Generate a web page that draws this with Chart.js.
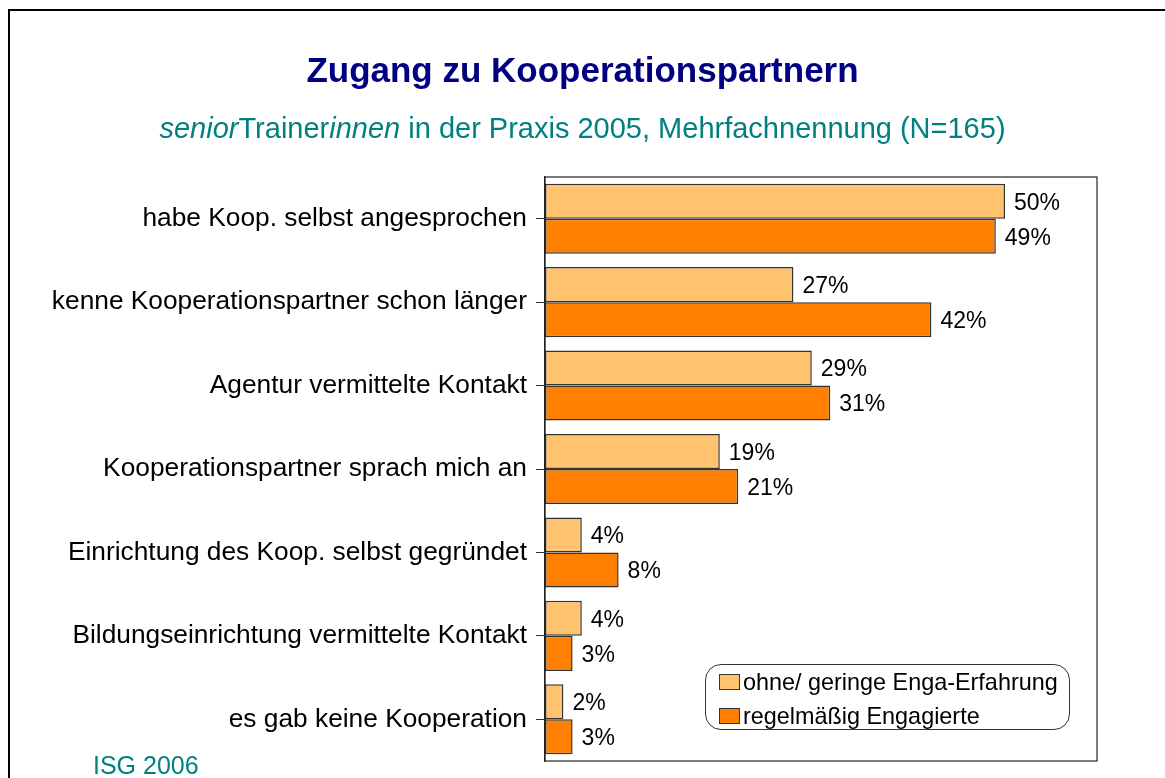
<!DOCTYPE html>
<html>
<head>
<meta charset="utf-8">
<title>Zugang zu Kooperationspartnern</title>
<script src="https://cdn.jsdelivr.net/npm/chart.js@4/dist/chart.umd.min.js"></script>
<style>
  html, body { margin: 0; padding: 0; background: #fff; }
  body { width: 1165px; height: 778px; position: relative; overflow: hidden;
         font-family: "Liberation Sans", Arial, sans-serif; }
  #frame { position: absolute; left: 8px; top: 9px; width: 1300px; height: 900px;
           border-left: 2px solid #000; border-top: 2px solid #000; }
  #chart-wrap { position: absolute; left: 0; top: 0; width: 1165px; height: 778px; }
  #chart-wrap canvas { display: block; }
  #title { position: absolute; left: 0; width: 1165px; top: 50px; text-align: center;
           font-weight: bold; font-size: 35px; color: #000080; white-space: nowrap; }
  #subtitle { position: absolute; left: 0; width: 1165px; top: 112px; text-align: center;
              font-size: 29px; color: #008080; white-space: nowrap; }
  #source { position: absolute; left: 93px; top: 751px; font-size: 25px; color: #008080; }
  #legend { position: absolute; left: 705px; top: 664px; width: 363px; height: 64px;
            border: 1.5px solid #333; border-radius: 16px; }
  .legend-item { position: absolute; left: 13px; height: 30px; display: flex; align-items: center;
                 font-size: 23.4px; color: #000; white-space: nowrap; }
  .legend-swatch { width: 19px; height: 14px; border: 1.5px solid #333; margin-right: 3px; }
</style>
</head>
<body>
<div id="chart-wrap"><canvas id="status-chart" width="1165" height="778"></canvas></div>
<div id="frame"></div>
<div id="title">Zugang zu Kooperationspartnern</div>
<div id="subtitle"><i>senior</i>Trainer<i>innen</i> in der Praxis 2005, Mehrfachnennung (N=165)</div>
<div id="source">ISG 2006</div>
<div id="legend"></div>
<script>
// categories and values (percent)
const categories = [
  'habe Koop. selbst angesprochen',
  'kenne Kooperationspartner schon länger',
  'Agentur vermittelte Kontakt',
  'Kooperationspartner sprach mich an',
  'Einrichtung des Koop. selbst gegründet',
  'Bildungseinrichtung vermittelte Kontakt',
  'es gab keine Kooperation'
];
const seriesNames = ['ohne/ geringe Enga-Erfahrung', 'regelmäßig Engagierte'];
const lowExperience = [50, 27, 29, 19, 4, 4, 2];
const regularEngaged = [49, 42, 31, 21, 8, 3, 3];

const FONT = '"Liberation Sans", Arial, sans-serif';
const colors = ['#FFC26E', '#FF8000'];

// draws the "50%" labels right of each bar
const valueLabels = {
  id: 'valueLabels',
  afterDatasetsDraw(chart) {
    const ctx = chart.ctx;
    ctx.save();
    ctx.font = '23px ' + FONT;
    ctx.fillStyle = '#000';
    ctx.textBaseline = 'middle';
    ctx.textAlign = 'left';
    chart.data.datasets.forEach((ds, i) => {
      chart.getDatasetMeta(i).data.forEach((bar, j) => {
        ctx.fillText(ds.data[j] + '%', bar.x + 9, bar.y + 2);
      });
    });
    ctx.restore();
  }
};

// box round the plot area
const plotBox = {
  id: 'plotBox',
  afterDraw(chart) {
    const a = chart.chartArea;
    const ctx = chart.ctx;
    ctx.save();
    ctx.strokeStyle = '#222';
    ctx.lineWidth = 1.2;
    ctx.strokeRect(a.left, a.top, a.right - a.left, a.bottom - a.top);
    ctx.restore();
  }
};

const chart = new Chart(document.getElementById('status-chart'), {
  type: 'bar',
  data: {
    labels: categories,
    datasets: [
      { label: seriesNames[0], data: lowExperience, backgroundColor: colors[0] },
      { label: seriesNames[1], data: regularEngaged, backgroundColor: colors[1] }
    ]
  },
  options: {
    indexAxis: 'y',
    responsive: false,
    animation: false,
    layout: { padding: { top: 177, right: 68, bottom: 17, left: 0 } },
    datasets: {
      bar: {
        categoryPercentage: 0.84,
        barPercentage: 1,
        borderColor: '#333',
        borderWidth: 1.5,
        borderSkipped: false
      }
    },
    scales: {
      x: { display: false, min: 0, max: 60 },
      y: {
        afterFit: (scale) => {
          scale.width = 545;
          // labels sit inside the category bands, no extra room needed
          scale.paddingTop = 0;
          scale.paddingBottom = 0;
        },
        ticks: { color: '#000', font: { family: FONT, size: 26.3 }, padding: 9 },
        grid: { offset: false, drawOnChartArea: false, drawTicks: true, tickLength: 9, color: '#333' },
        border: { display: true, color: '#222', width: 1.2 }
      }
    },
    plugins: {
      legend: { display: false },
      tooltip: { enabled: false }
    }
  },
  plugins: [valueLabels, plotBox]
});

// legend built from the datasets
const legendBox = document.getElementById('legend');
chart.data.datasets.forEach((ds, i) => {
  const item = document.createElement('div');
  item.className = 'legend-item';
  item.style.top = (2 + i * 34) + 'px';
  const sw = document.createElement('span');
  sw.className = 'legend-swatch';
  sw.style.background = ds.backgroundColor;
  item.appendChild(sw);
  item.appendChild(document.createTextNode(ds.label));
  legendBox.appendChild(item);
});
</script>
</body>
</html>
